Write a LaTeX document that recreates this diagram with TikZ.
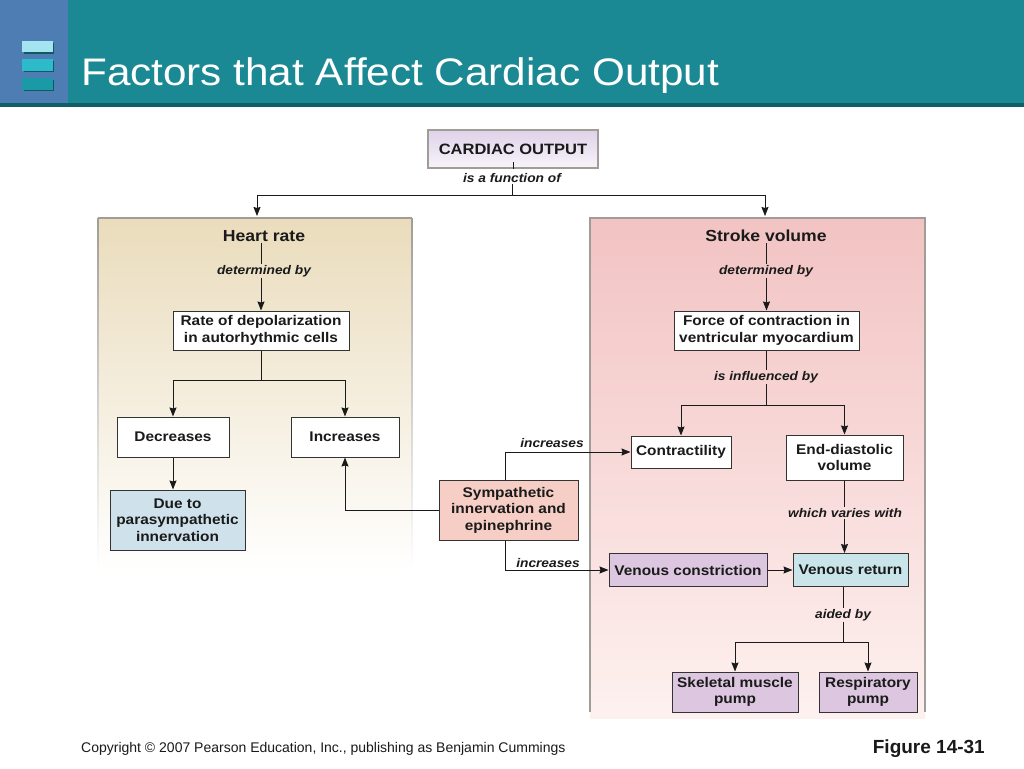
\documentclass[tikz,border=0pt]{standalone}
\usepackage{fontspec}
\setmainfont{Liberation Sans}[FakeStretch=1.1]
\newfontfamily\footfont{Liberation Sans}
\usetikzlibrary{arrows.meta}
\definecolor{hdteal}{HTML}{1B8994}
\definecolor{hdblue}{HTML}{4E7DB4}
\definecolor{hddark}{HTML}{0F5F66}
\definecolor{icA}{HTML}{A3E4F0}
\definecolor{icB}{HTML}{2DBBCB}
\definecolor{icC}{HTML}{1A9AA6}
\definecolor{icS}{HTML}{0E5A63}
\definecolor{lpan}{HTML}{EADCBC}
\definecolor{rpan}{HTML}{F2C3C3}
\definecolor{rpanb}{HTML}{FDF1EF}
\definecolor{pgray}{HTML}{A09C98}
\definecolor{bluefill}{HTML}{CFE2EC}
\definecolor{vrfill}{HTML}{C9E5EA}
\definecolor{symfill}{HTML}{F6CEC5}
\definecolor{purfill}{HTML}{DCC6E0}
\definecolor{cotop}{HTML}{DFD2E8}
\definecolor{cobot}{HTML}{F8F4FA}
\definecolor{ink}{HTML}{1A1A1A}
\begin{document}
\begin{tikzpicture}[x=1pt,y=-1pt,
  box/.style={draw=black!80, line width=1pt, fill=white, align=center, inner sep=0pt, text=ink,
    font=\bfseries\fontsize{14}{16.5}\selectfont},
  cobox/.style={draw=pgray, line width=1.8pt, top color=cotop, bottom color=cobot, inner sep=0pt, text=ink,
    font=\bfseries\fontsize{15}{17}\selectfont},
  hd/.style={font=\bfseries\fontsize{16}{18}\selectfont, text=ink, inner sep=1pt},
  lbl/.style={font=\bfseries\itshape\fontsize{12.5}{14}\selectfont, text=ink, inner sep=1pt},
  ln/.style={line width=0.9pt, draw=ink},
  arr/.style={line width=0.9pt, draw=ink, -{Stealth[length=9pt,width=7pt,inset=1pt]}}]
\useasboundingbox (0,0) rectangle (1024,768);
\fill[white] (0,0) rectangle (1024,768);
% header
\fill[hdteal] (0,0) rectangle (1024,103);
\fill[hdblue] (0,0) rectangle (68,103);
\fill[hddark] (0,103) rectangle (1024,106.5);
\fill[icS] (23.5,43.5) rectangle (54,54); \fill[icA] (22,41.5) rectangle (52.5,52.5);
\fill[icS] (23.5,61) rectangle (54,72); \fill[icB] (22,59) rectangle (52.5,70.5);
\fill[icS] (23.5,80) rectangle (54,91); \fill[icC] (22,78) rectangle (52.5,89.5);
\node[anchor=base west, text=white, inner sep=0pt, font=\fontsize{38.4}{40}\selectfont] (title) at (81,85) {Factors that Affect Cardiac Output};
% panels
\shade[top color=lpan, bottom color=white] (98,218) rectangle (412,572);
\shade[top color=rpan, bottom color=rpanb] (590,218) rectangle (925,718);
\draw[pgray, line width=1.6pt] (98,218) -- (412,218);
\shade[top color=pgray, bottom color=white] (97.2,218) rectangle (98.8,570);
\shade[top color=pgray, bottom color=white] (411.2,218) rectangle (412.8,570);
\draw[pgray, line width=1.6pt] (590,712) -- (590,218) -- (925,218) -- (925,712);
% top
\node[cobox, minimum width=170, minimum height=38] (co) at (513,149) {CARDIAC OUTPUT};
\node[lbl] (fn) at (512,178) {is a function of};
\draw[ln] (co.south) -- ++(0,-7);
\coordinate (j0) at (512,195);
\draw[ln] (fn.south) -- (j0);
\coordinate (hrin) at (257,216);
\coordinate (svin) at (765,216);
\draw[arr] (j0) -| (hrin);
\draw[arr] (j0) -| (svin);
% left side
\node[hd] (hr) at (264,236) {Heart rate};
\node[lbl] (det1) at (264,271) {determined by};
\node[box, minimum width=176, minimum height=39] (rate) at (261,330.5) {Rate of depolarization\\in autorhythmic cells};
\draw[ln] (hr.south -| rate.north) -- (det1.north -| rate.north);
\draw[arr] (det1.south -| rate.north) -- (rate.north);
\node[box, minimum width=112, minimum height=40] (dec) at (173,437) {Decreases};
\node[box, minimum width=108, minimum height=40] (inc) at (345,437) {Increases};
\coordinate (j1) at (261,380);
\draw[ln] (rate.south) -- (j1);
\draw[arr] (j1) -| (dec.north);
\draw[arr] (j1) -| (inc.north);
\node[box, fill=bluefill, minimum width=135, minimum height=60] (due) at (177.5,520) {Due to\\parasympathetic\\innervation};
\draw[arr] (dec.south) -- (dec.south |- due.north);
% middle
\node[box, fill=symfill, minimum width=139, minimum height=60] (sym) at (508.5,510) {Sympathetic\\innervation and\\epinephrine};
\draw[arr] (sym.west) -| (inc.south);
% right side
\node[hd] (sv) at (766,236) {Stroke volume};
\node[lbl] (det2) at (766,271) {determined by};
\node[box, minimum width=185, minimum height=39] (force) at (766.5,330.5) {Force of contraction in\\ventricular myocardium};
\draw[ln] (sv.south -| force.north) -- (det2.north -| force.north);
\draw[arr] (det2.south -| force.north) -- (force.north);
\node[lbl] (infl) at (766,377) {is influenced by};
\draw[ln] (force.south) -- (infl.north -| force.south);
\coordinate (j2) at (766.5,405);
\draw[ln] (infl.south -| force.south) -- (j2);
\node[box, minimum width=100, minimum height=32] (con) at (681,452) {Contractility};
\node[box, minimum width=117, minimum height=45] (edv) at (844.5,457.5) {End-diastolic\\volume};
\draw[arr] (j2) -| (con.north);
\draw[arr] (j2) -| (edv.north);
\node[lbl] (vary) at (845,513) {which varies with};
\node[box, fill=purfill, minimum width=158, minimum height=33] (vc) at (688,570) {Venous constriction};
\node[box, fill=vrfill, minimum width=115, minimum height=33] (vr) at (850.5,570) {Venous return};
\draw[ln] (edv.south) -- (vary.north -| edv.south);
\draw[arr] (vary.south -| edv.south) -- (edv.south |- vr.north);
\draw[arr] (vc.east) -- (vr.west);
\node[lbl] (inc1) at (552,443) {increases};
\node[lbl] (inc2) at (548,563) {increases};
\draw[arr] ([xshift=-3.5pt]sym.north) |- (con.west);
\draw[arr] ([xshift=-3.5pt]sym.south) |- (vc.west);
\node[lbl] (aided) at (843,615) {aided by};
\draw[ln] (vr.south -| aided.north) -- (aided.north);
\coordinate (j3) at (843,642);
\draw[ln] (aided.south) -- (j3);
\node[box, fill=purfill, minimum width=126, minimum height=40] (skel) at (735,692) {Skeletal muscle\\pump};
\node[box, fill=purfill, minimum width=98, minimum height=40] (resp) at (868,692) {Respiratory\\pump};
\draw[arr] (j3) -| (skel.north);
\draw[arr] (j3) -| (resp.north);
% footer
\node[anchor=west, inner sep=0pt, text=ink, font=\footfont\fontsize{14}{16}\selectfont] (copy) at (81,749) {Copyright © 2007 Pearson Education, Inc., publishing as Benjamin Cummings};
\node[anchor=east, inner sep=0pt, text=ink, font=\footfont\bfseries\fontsize{19}{21}\selectfont] (fig) at (985,749) {Figure 14-31};
\end{tikzpicture}
\end{document}
